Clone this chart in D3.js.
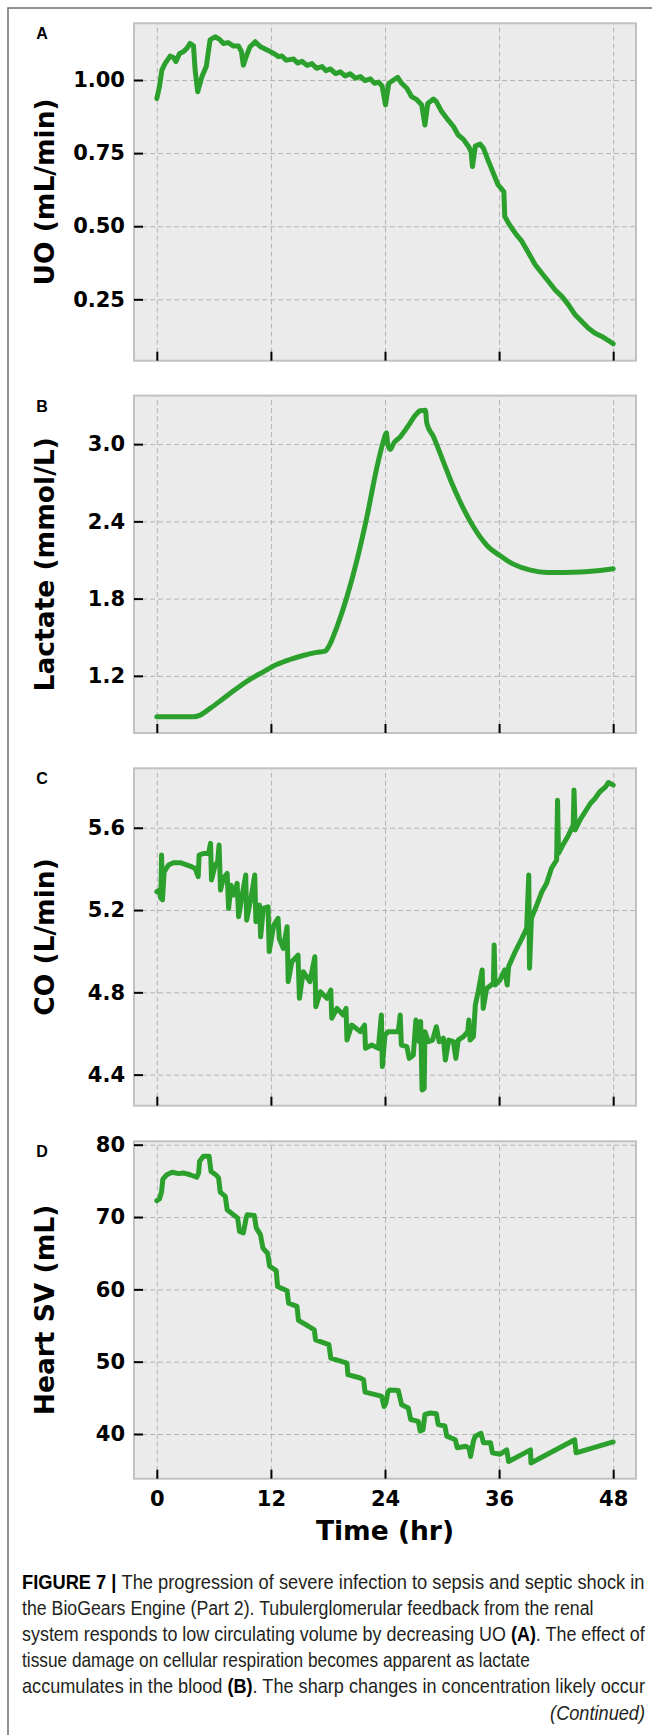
<!DOCTYPE html>
<html>
<head>
<meta charset="utf-8">
<script src="https://cdn.jsdelivr.net/npm/d3@7"></script>
<style>
  body { margin: 0; background: #fff; }
  .grid line { stroke: #b4b4b4; stroke-width: 1; stroke-dasharray: 5,3; }
  .grid path { display: none; }
  .axis path { display: none; }
  .axis line { stroke: #000; stroke-width: 2; }
  .axis text { font-family: "DejaVu Sans", sans-serif; font-weight: bold; font-size: 21px; fill: #000; }
  .ylabel, .xlabel { font-family: "DejaVu Sans", sans-serif; font-weight: bold; font-size: 26.5px; fill: #000; }
  .letter { font-family: "Liberation Sans", Arial, sans-serif; font-weight: bold; font-size: 16px; fill: #000; }
  .caption { font-family: "Liberation Sans", Arial, sans-serif; font-size: 21px; fill: #231f20; }
</style>
</head>
<body>
<div class="viz"></div>
<script>
//////////////////////////
// Data
//////////////////////////

const X_TICKS = [0, 12, 24, 36, 48];

// A: urine output (mL/min)
const uoTime = [0, 0.28, 0.53, 0.88, 1.4, 1.75, 2.0, 2.4, 2.8, 3.16, 3.5, 3.86, 4.03, 4.3, 4.74, 5.2, 5.6, 6.14,
    6.6, 7.0, 7.5, 8.07, 8.6, 8.9, 9.1, 9.4, 9.8, 10.35, 10.9, 11.6, 12.3, 12.8, 13.16, 13.6, 14.39, 14.8, 15.26,
    15.8, 16.32, 16.8, 17.37, 17.8, 18.25, 18.8, 19.3, 19.8, 20.35, 20.9, 21.4, 21.9, 22.46, 22.9, 23.33, 23.7,
    24.05, 24.4, 24.9, 25.33, 25.75, 26.3, 26.8, 27.3, 27.86, 28.2, 28.5, 29.1, 29.4, 29.96, 30.5, 31.2, 31.7,
    32.25, 32.8, 33.05, 33.2, 33.5, 34.0, 34.35, 34.9, 35.4, 35.9, 36.5, 36.6, 37.0, 37.7, 38.4, 39.1, 39.8,
    40.5, 41.2, 41.9, 42.6, 43.3, 44.0, 44.7, 45.4, 46.1, 46.8, 47.5, 48];
const uoValue = [0.937, 0.977, 1.034, 1.057, 1.082, 1.077, 1.063, 1.091, 1.097, 1.108, 1.125, 1.116, 1.034, 0.960,
    1.011, 1.046, 1.137, 1.148, 1.139, 1.125, 1.128, 1.116, 1.116, 1.097, 1.051, 1.080, 1.114, 1.131, 1.114, 1.103,
    1.091, 1.080, 1.082, 1.068, 1.072, 1.058, 1.064, 1.050, 1.056, 1.040, 1.046, 1.032, 1.038, 1.022, 1.028, 1.014,
    1.021, 1.006, 1.012, 0.998, 1.004, 0.989, 0.993, 0.979, 0.915, 0.989, 1.000, 1.009, 0.989, 0.972, 0.943, 0.934,
    0.915, 0.846, 0.920, 0.935, 0.926, 0.892, 0.869, 0.841, 0.812, 0.797, 0.772, 0.755, 0.704, 0.774, 0.781,
    0.767, 0.721, 0.681, 0.641, 0.618, 0.533, 0.510, 0.476, 0.448, 0.408, 0.368, 0.339, 0.311, 0.282, 0.260,
    0.231, 0.197, 0.174, 0.151, 0.134, 0.123, 0.109, 0.098];

// B: lactate (mmol/L)
const lactateTime = [0, 3.86, 4.56, 5.6, 7.0, 8.4, 9.8, 11.2, 12.6, 14.0, 15.4, 16.8, 17.7, 18.07, 18.95, 20.0,
    21.05, 22.1, 23.16, 23.86, 24.14, 24.3, 24.56, 24.9, 25.6, 26.5, 27.2, 27.7, 28.25, 28.4, 29.1, 30.0, 30.9,
    31.9, 33.3, 34.7, 36.0, 37.5, 39.3, 41.05, 42.8, 44.6, 46.3, 48];
const lactateValue = [0.882, 0.882, 0.895, 0.947, 1.024, 1.102, 1.172, 1.231, 1.288, 1.327, 1.358, 1.382, 1.392,
    1.426, 1.581, 1.814, 2.099, 2.436, 2.824, 3.031, 3.088, 2.992, 2.959, 3.005, 3.057, 3.148, 3.225, 3.259,
    3.264, 3.161, 3.057, 2.889, 2.720, 2.552, 2.358, 2.215, 2.138, 2.068, 2.021, 2.003, 2.003, 2.006, 2.016, 2.032];

// C: cardiac output (L/min)
const coTime = [0, 0.28, 0.42, 0.5, 0.6, 0.77, 1.23, 1.75, 2.46, 2.98, 3.5, 4.04, 4.35, 4.45, 4.9, 5.44, 5.65,
    5.75, 6.14, 6.4, 6.55, 6.7, 7.0, 7.4, 7.55, 7.8, 8.1, 8.45, 8.6, 8.95, 9.35, 9.45, 9.9, 10.3, 10.42, 10.8,
    10.92, 11.2, 11.7, 11.82, 12.3, 12.75, 12.88, 13.3, 13.7, 13.82, 14.2, 14.85, 15.0, 15.4, 16.1, 16.62, 16.72,
    17.2, 17.9, 18.3, 18.4, 18.95, 19.6, 19.9, 20.0, 20.5, 21.4, 21.85, 21.95, 22.6, 23.3, 23.62, 23.72, 24.0,
    24.35, 25.4, 25.6, 25.72, 26.3, 26.55, 26.98, 27.25, 27.6, 27.75, 27.9, 28.12, 28.2, 28.56, 29.0, 29.4, 29.7,
    30.14, 30.35, 30.7, 31.2, 31.45, 31.7, 32.25, 32.7, 32.82, 32.95, 33.3, 33.5, 33.8, 34.22, 34.33, 34.7, 35.4,
    35.48, 35.58, 36.1, 36.6, 36.85, 37.0, 37.7, 38.4, 38.9, 39.12, 39.2, 39.4, 39.96, 40.5, 41.0, 41.5, 42.05,
    42.15, 42.25, 42.8, 43.3, 43.8, 43.88, 44.0, 44.5, 45.05, 45.6, 46.1, 46.6, 47.2, 47.5, 48];
const coValue = [5.289, 5.297, 5.257, 5.467, 5.249, 5.386, 5.419, 5.430, 5.430, 5.422, 5.414, 5.402, 5.362, 5.467,
    5.475, 5.475, 5.524, 5.346, 5.419, 5.435, 5.516, 5.297, 5.354, 5.378, 5.208, 5.321, 5.273, 5.330, 5.168,
    5.265, 5.370, 5.151, 5.257, 5.370, 5.143, 5.224, 5.070, 5.208, 5.216, 4.998, 5.127, 5.160, 5.062, 5.014,
    5.119, 4.852, 4.949, 4.981, 4.771, 4.900, 4.852, 4.973, 4.730, 4.803, 4.771, 4.811, 4.674, 4.722, 4.690,
    4.722, 4.568, 4.641, 4.609, 4.641, 4.528, 4.544, 4.528, 4.690, 4.439, 4.593, 4.609, 4.609, 4.690, 4.544,
    4.536, 4.479, 4.495, 4.666, 4.560, 4.658, 4.325, 4.333, 4.609, 4.560, 4.568, 4.633, 4.560, 4.577, 4.471,
    4.568, 4.560, 4.479, 4.568, 4.585, 4.609, 4.666, 4.568, 4.585, 4.738, 4.803, 4.909, 4.722, 4.819, 4.844,
    5.030, 4.836, 4.860, 4.909, 4.836, 4.925, 4.998, 5.062, 5.111, 5.370, 4.917, 5.160, 5.224, 5.289, 5.330,
    5.402, 5.443, 5.734, 5.475, 5.524, 5.564, 5.613, 5.783, 5.589, 5.637, 5.678, 5.718, 5.743, 5.775, 5.799,
    5.820, 5.807];

// D: heart stroke volume (mL)
const svTime = [0, 0.28, 0.5, 0.63, 1.05, 1.6, 2.3, 2.8, 3.5, 4.2, 4.4, 4.5, 4.9, 5.5, 5.7, 6.2, 6.5, 6.67, 7.2,
    7.4, 8.07, 8.5, 8.7, 9.1, 9.4, 9.5, 10.25, 10.46, 10.9, 11.16, 11.65, 11.86, 12.56, 12.7, 13.7, 13.86, 14.74,
    14.9, 15.96, 16.56, 16.7, 18.1, 18.3, 19.5, 20.0, 20.1, 21.4, 21.75, 21.9, 23.3, 23.65, 23.9, 24.1, 24.3,
    24.5, 25.4, 25.75, 26.45, 26.7, 27.5, 27.7, 28.0, 28.2, 28.8, 29.4, 29.6, 30.3, 30.5, 31.4, 31.6, 32.5, 32.85,
    33.0, 33.3, 33.5, 34.1, 34.35, 35.1, 35.3, 36.1, 36.8, 37.0, 39.3, 39.35, 43.95, 44.1, 48];
const svValue = [72.26, 72.5, 73.5, 75.2, 75.85, 76.2, 76.0, 76.1, 75.85, 75.5, 76.1, 77.7, 78.4, 78.4, 76.3, 75.85,
    75.4, 73.45, 72.85, 71.0, 70.3, 69.86, 68.0, 67.8, 69.86, 70.3, 70.2, 68.5, 67.56, 65.7, 65.0, 63.2, 62.6, 60.4,
    59.8, 58.1, 57.65, 55.7, 54.9, 54.4, 53.0, 52.35, 50.5, 50.0, 49.8, 48.2, 47.74, 47.5, 45.8, 45.35, 45.2, 43.8,
    44.3, 45.8, 46.1, 46.0, 44.05, 43.6, 42.0, 41.75, 40.4, 40.6, 42.7, 42.9, 42.8, 41.3, 41.1, 39.7, 39.2, 38.1,
    38.3, 38.0, 36.9, 39.0, 39.7, 40.1, 38.8, 38.8, 37.4, 37.2, 37.8, 36.2, 37.8, 36.0, 39.2, 37.4, 38.9];

const uoTicks = [0.25, 0.50, 0.75, 1.00];
const lactateTicks = [1.2, 1.8, 2.4, 3.0];
const coTicks = [4.4, 4.8, 5.2, 5.6];
const svTicks = [40, 50, 60, 70, 80];

const panelLetters = ['A', 'B', 'C', 'D'];
const yLabels = ['UO (mL/min)', 'Lactate (mmol/L)', 'CO (L/min)', 'Heart SV (mL)'];
const xLabel = 'Time (hr)';

const PANELS = [
    { time: uoTime, value: uoValue, ticks: uoTicks, fmt: '.2f', domain: [0.040, 1.194], curve: d3.curveLinear },
    { time: lactateTime, value: lactateValue, ticks: lactateTicks, fmt: '.1f', domain: [0.756, 3.377], curve: d3.curveMonotoneX },
    { time: coTime, value: coValue, ticks: coTicks, fmt: '.1f', domain: [4.249, 5.889], curve: d3.curveLinear },
    { time: svTime, value: svValue, ticks: svTicks, fmt: 'd', domain: [33.82, 80.47], curve: d3.curveLinear },
];

//////////////////////////
// D3 Stuff
//////////////////////////

const PAGE_W = 652, PAGE_H = 1735;
const left = 134, W = 502, H = 337.4;
const panelTops = [23.3, 395.6, 768.3, 1141.3];

const svg = d3.select('div.viz')
    .append('svg')
    .attr('width', PAGE_W)
    .attr('height', PAGE_H);

// page frame (left + top rule)
svg.append('path')
    .attr('d', 'M8,' + PAGE_H + 'V8H' + PAGE_W)
    .attr('fill', 'none')
    .attr('stroke', '#6d6d6d')
    .attr('stroke-width', 1.5);

const xScale = d3.scaleLinear()
    .domain([-2.4, 50.4])
    .range([0, W]);

PANELS.forEach(function(p, i) {
    const g = svg.append('g')
        .attr('transform', 'translate(' + left + ',' + panelTops[i] + ')');

    const yScale = d3.scaleLinear()
        .domain(p.domain)
        .range([H, 0]);

    g.append('rect')
        .attr('width', W)
        .attr('height', H)
        .attr('fill', '#ebebeb');

    // grid
    g.append('g')
        .attr('class', 'grid')
        .call(d3.axisLeft(yScale).tickValues(p.ticks).tickSize(-W).tickFormat(''));
    g.append('g')
        .attr('class', 'grid')
        .attr('transform', 'translate(0,' + H + ')')
        .call(d3.axisBottom(xScale).tickValues(X_TICKS).tickSize(-H).tickFormat(''));

    // series
    const pts = p.time.map(function(t, k) { return [t, p.value[k]]; });
    g.append('path')
        .datum(pts)
        .attr('fill', 'none')
        .attr('stroke', '#2ca02c')
        .attr('stroke-width', 5)
        .attr('stroke-linejoin', 'round')
        .attr('stroke-linecap', 'round')
        .attr('d', d3.line()
            .curve(p.curve)
            .x(function(d) { return xScale(d[0]); })
            .y(function(d) { return yScale(d[1]); }));

    // frame
    g.append('rect')
        .attr('width', W)
        .attr('height', H)
        .attr('fill', 'none')
        .attr('stroke', '#c2c2c2')
        .attr('stroke-width', 2);

    // axes, ticks pointing inward
    g.append('g')
        .attr('class', 'axis')
        .call(d3.axisLeft(yScale).tickValues(p.ticks).tickSize(-9).tickPadding(9)
            .tickFormat(d3.format(p.fmt)));

    const xAxis = d3.axisBottom(xScale).tickValues(X_TICKS).tickSize(-9).tickPadding(12);
    if (i < PANELS.length - 1) xAxis.tickFormat('');
    g.append('g')
        .attr('class', 'axis')
        .attr('transform', 'translate(0,' + H + ')')
        .call(xAxis);

    // y label
    svg.append('text')
        .attr('class', 'ylabel')
        .attr('transform', 'translate(44,' + (panelTops[i] + H / 2) + ') rotate(-90)')
        .attr('text-anchor', 'middle')
        .attr('dominant-baseline', 'central')
        .text(yLabels[i]);

    // panel letter
    svg.append('text')
        .attr('class', 'letter')
        .attr('x', 42)
        .attr('y', panelTops[i] + 16)
        .attr('text-anchor', 'middle')
        .text(panelLetters[i]);
});

svg.append('text')
    .attr('class', 'xlabel')
    .attr('x', xScale(24) + left)
    .attr('y', 1540)
    .attr('text-anchor', 'middle')
    .text(xLabel);

// caption
const captionLines = [
    { parts: [['FIGURE 7 | ', 'b'], ['The progression of severe infection to sepsis and septic shock in', '']], w: 623 },
    { parts: [['the BioGears Engine (Part 2). Tubulerglomerular feedback from the renal', '']], w: 572 },
    { parts: [['system responds to low circulating volume by decreasing UO ', ''], ['(A)', 'b'], ['. The effect of', '']], w: 623 },
    { parts: [['tissue damage on cellular respiration becomes apparent as lactate', '']], w: 508 },
    { parts: [['accumulates in the blood ', ''], ['(B)', 'b'], ['. The sharp changes in concentration likely occur', '']], w: 623 },
];
const capX = 22, capY0 = 1589, capStep = 26.1;

captionLines.forEach(function(line, i) {
    const t = svg.append('text')
        .attr('class', 'caption');
    line.parts.forEach(function(pt) {
        t.append('tspan')
            .attr('font-weight', pt[1] === 'b' ? 'bold' : 'normal')
            .attr('fill', pt[1] === 'b' ? '#000' : null)
            .text(pt[0]);
    });
    const natural = t.node().getComputedTextLength();
    t.attr('transform', 'translate(' + capX + ',' + (capY0 + i * capStep) + ') scale(' + (line.w / natural) + ',1)');
});

const cont = svg.append('text')
    .attr('class', 'caption')
    .attr('font-style', 'italic')
    .attr('text-anchor', 'end')
    .text('(Continued)');
const contW = cont.node().getComputedTextLength();
cont.attr('transform', 'translate(645,' + (capY0 + 5 * capStep) + ') scale(' + (95 / contW) + ',1)');
</script>
</body>
</html>
